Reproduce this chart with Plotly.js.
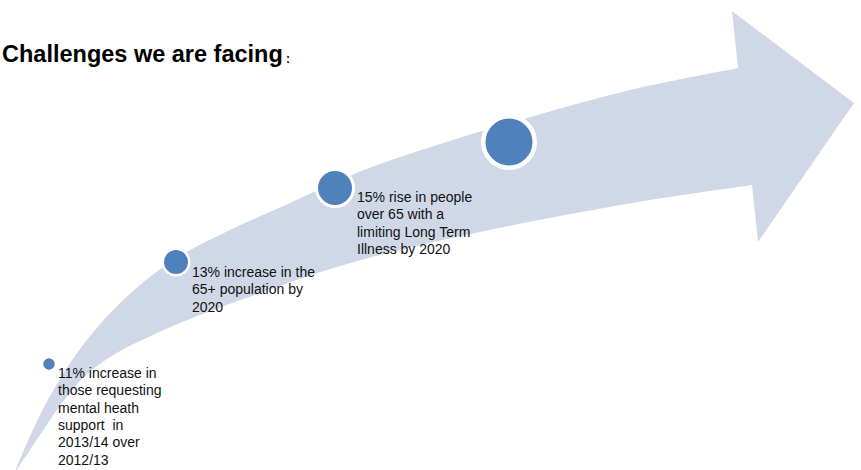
<!DOCTYPE html>
<html>
<head>
<meta charset="utf-8">
<script src="https://cdn.plot.ly/plotly-3.0.1.min.js"></script>
<style>
  html, body { margin: 0; padding: 0; background: #ffffff; }
  #chart { width: 861px; height: 470px; }
</style>
</head>
<body>
<div id="chart"></div>
<script>
// ---- data ----
var titleText = "Challenges we are facing";
var milestoneX = [49, 176, 335, 509];
var milestoneY = [364, 262, 188, 142];
var milestoneSize = [13, 26.5, 37, 51.5];
var milestoneRing = [1.5, 2.5, 3, 4.5];

var labelX = [56, 190, 355];
var labelTopY = [373, 272, 197];
var labelLines = [
  ["11% increase in", "those requesting", "mental heath", "support\u00a0\u00a0in", "2013/14 over", "2012/13"],
  ["13% increase in the", "65+ population by", "2020"],
  ["15% rise in people", "over 65 with a", "limiting Long Term", "Illness by 2020"]
];

// arrow outline (canvas units)
var upperEdgeX = [14, 30, 50, 75, 105, 140, 180, 230, 290, 360, 440, 530, 630, 738];
var upperEdgeY = [474, 436, 396, 356, 318.5, 285, 256, 230, 203, 171.5, 144, 117, 90, 68];
var headX = [732, 854, 758, 752];
var headY = [11, 103, 242, 185];
var lowerEdgeX = [752, 650, 560, 480, 400, 330, 260, 200, 155, 115, 85, 62, 40, 14];
var lowerEdgeY = [185, 200, 216, 232, 250, 269, 293, 315, 334, 354, 376, 403, 435, 474];

// ---- build smooth path (Catmull-Rom -> cubic Bezier) ----
function smoothSeg(xs, ys) {
  var s = "";
  var n = xs.length;
  for (var i = 0; i < n - 1; i++) {
    var x0 = xs[Math.max(i - 1, 0)], y0 = ys[Math.max(i - 1, 0)];
    var x1 = xs[i], y1 = ys[i];
    var x2 = xs[i + 1], y2 = ys[i + 1];
    var x3 = xs[Math.min(i + 2, n - 1)], y3 = ys[Math.min(i + 2, n - 1)];
    var c1x = x1 + (x2 - x0) / 6, c1y = y1 + (y2 - y0) / 6;
    var c2x = x2 - (x3 - x1) / 6, c2y = y2 - (y3 - y1) / 6;
    s += " C" + c1x + "," + c1y + " " + c2x + "," + c2y + " " + x2 + "," + y2;
  }
  return s;
}
var path = "M" + upperEdgeX[0] + "," + upperEdgeY[0];
path += smoothSeg(upperEdgeX, upperEdgeY);
for (var i = 0; i < headX.length; i++) path += " L" + headX[i] + "," + headY[i];
path += smoothSeg(lowerEdgeX, lowerEdgeY);
path += " Z";

var shapes = [{
  type: "path", xref: "x", yref: "y", path: path,
  fillcolor: "#D0D8E8", line: { width: 0 }, layer: "below"
}];

var annotations = [];
var lineStep = 17.3;
for (var b = 0; b < labelLines.length; b++) {
  for (var l = 0; l < labelLines[b].length; l++) {
    annotations.push({
      xref: "x", yref: "y", x: labelX[b], y: labelTopY[b] + l * lineStep,
      xanchor: "left", yanchor: "middle", showarrow: false, align: "left",
      text: labelLines[b][l],
      font: { family: "Liberation Sans, Arial, sans-serif", size: 14, color: "#111111" }
    });
  }
}
annotations.push({
  xref: "x", yref: "y", x: 0, y: 54, xanchor: "left", yanchor: "middle", showarrow: false,
  text: "<b>" + titleText + "</b>",
  font: { family: "Liberation Sans, Arial, sans-serif", size: 23.5, color: "#000000" }
});
annotations.push({
  xref: "x", yref: "y", x: 284, y: 59, xanchor: "left", yanchor: "middle", showarrow: false,
  text: "<b>:</b>",
  font: { family: "Liberation Sans, Arial, sans-serif", size: 12, color: "#000000" }
});

var traces = [{
  type: "scatter", mode: "markers",
  x: milestoneX, y: milestoneY,
  marker: { size: milestoneSize, color: "#4F81BD", opacity: 1,
            line: { color: "#ffffff", width: milestoneRing } },
  hoverinfo: "skip", showlegend: false
}];

var layout = {
  width: 861, height: 470,
  margin: { l: 0, r: 0, t: 0, b: 0 },
  paper_bgcolor: "#ffffff", plot_bgcolor: "#ffffff",
  xaxis: { range: [0, 861], visible: false, fixedrange: true },
  yaxis: { range: [470, 0], visible: false, fixedrange: true },
  shapes: shapes, annotations: annotations, showlegend: false
};

Plotly.newPlot("chart", traces, layout, { displayModeBar: false, staticPlot: true });
</script>
</body>
</html>
